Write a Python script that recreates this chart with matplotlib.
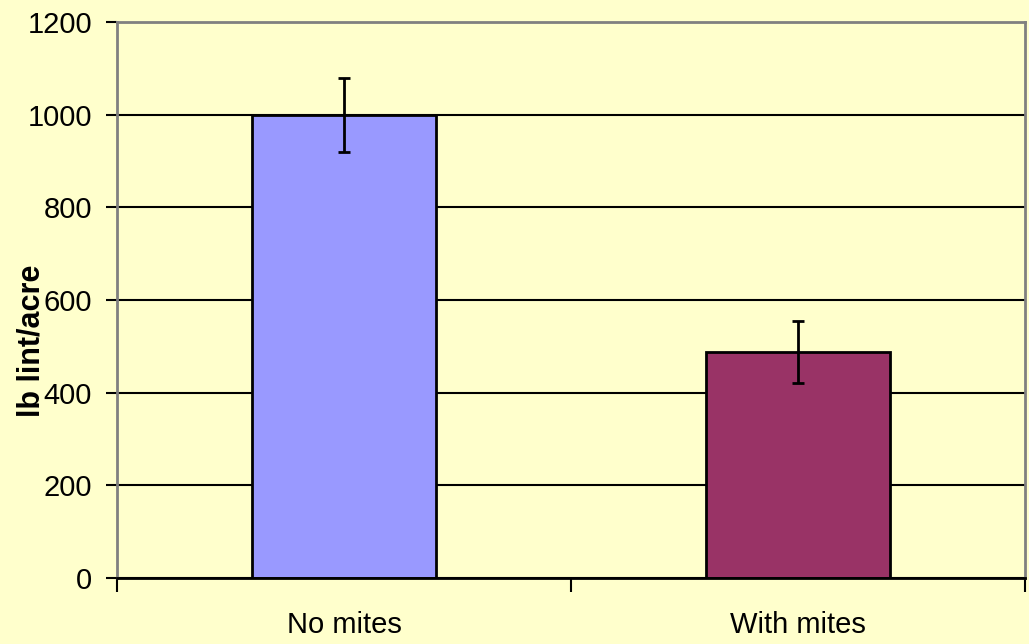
import matplotlib.pyplot as plt
import numpy as np

categories = ["No mites", "With mites"]
yields = [1000, 488]
errors = [80, 67]
bar_colors = ["#9999FF", "#993366"]
y_ticks = [0, 200, 400, 600, 800, 1000, 1200]

plt.rcParams["font.family"] = ["Liberation Sans", "DejaVu Sans"]

fig = plt.figure(figsize=(10.29, 6.44), dpi=100, facecolor="#FFFFCC")
ax = fig.add_axes([0.1137, 0.1025, 0.8824, 0.8633])
ax.set_facecolor("#FFFFCC")

x = np.arange(len(categories)) + 0.5
ax.set_axisbelow(True)
ax.yaxis.grid(True, color="black", linewidth=1.5)
ax.bar(x, yields, width=0.405, color=bar_colors, edgecolor="black", linewidth=2, zorder=2)
ax.errorbar(x, yields, yerr=errors, fmt="none", ecolor="black", elinewidth=2,
            capsize=4, capthick=2, zorder=3)

ax.set_xlim(0, 2)
ax.set_ylim(0, 1200)
ax.set_yticks(y_ticks)
ax.set_xticks([0, 1, 2])
ax.set_xticklabels([])
ax.set_xticks(x, minor=True)
ax.set_xticklabels(categories, minor=True)
ax.tick_params(axis="x", which="major", direction="out", length=10, width=1.5, color="black")
ax.tick_params(axis="x", which="minor", length=0, pad=24, labelsize=21)
ax.tick_params(axis="y", direction="out", length=8, width=1.5, color="black", labelsize=21, pad=10)

for side in ["left", "top", "right"]:
    ax.spines[side].set_color("#808080")
    ax.spines[side].set_linewidth(2)
ax.spines["bottom"].set_color("black")
ax.spines["bottom"].set_linewidth(2)

ax.set_ylabel("lb lint/acre", fontsize=22, fontweight="bold")
ax.yaxis.set_label_coords(-0.078, 0.426)

fig.savefig("out.png", dpi=100, facecolor=fig.get_facecolor())
